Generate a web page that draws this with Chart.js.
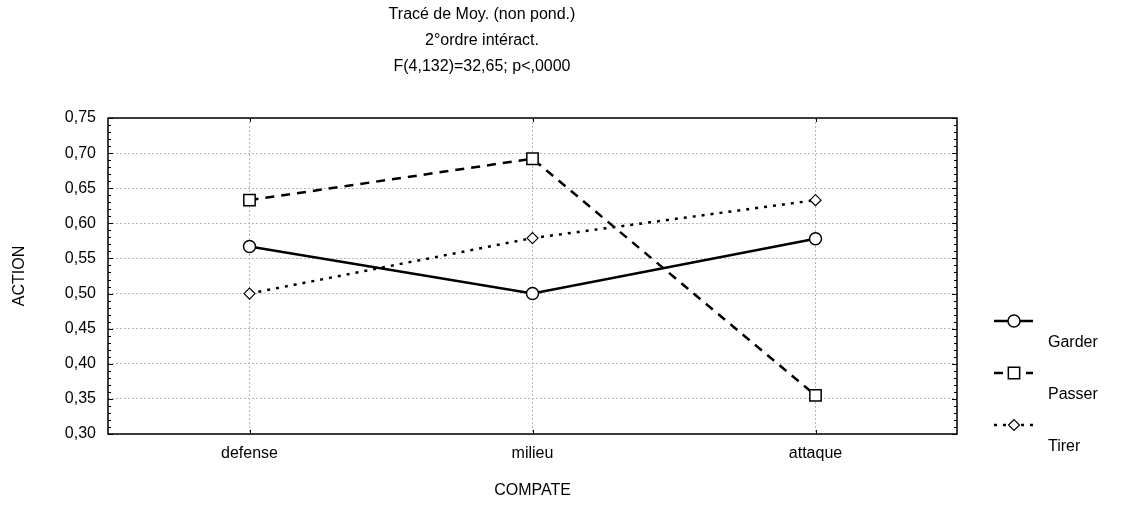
<!DOCTYPE html>
<html>
<head>
<meta charset="utf-8">
<script src="https://cdn.jsdelivr.net/npm/chart.js@4/dist/chart.umd.min.js"></script>
<style>
  body { margin: 0; background: #fff; }
  #wrap { width: 1131px; height: 506px; }
</style>
</head>
<body>
<div id="wrap"><canvas id="myChart"></canvas></div>
<script>
/* data */
const categories = ['defense', 'milieu', 'attaque'];
const garder = [0.567, 0.500, 0.578];
const passer = [0.633, 0.692, 0.355];
const tirer = [0.500, 0.579, 0.633];
const seriesNames = ['Garder', 'Passer', 'Tirer'];
const titleLines = ['Tracé de Moy. (non pond.)', '2°ordre intéract.', 'F(4,132)=32,65; p<,0000'];
const yMin = 0.30, yMax = 0.75, yStep = 0.05;

const FONT = 'Arial, "Liberation Sans", sans-serif';
Chart.defaults.font.family = FONT;
Chart.defaults.font.size = 16;
Chart.defaults.color = '#000';

/* frame, inward ticks, title and legend drawn on top */
const decor = {
  id: 'decor',
  afterDraw(chart) {
    const c = chart.ctx;
    const a = chart.chartArea;
    const y = chart.scales.y;
    const x = chart.scales.x;
    c.save();
    c.strokeStyle = '#000';
    c.lineWidth = 1.5;
    c.strokeRect(a.left, a.top, a.right - a.left, a.bottom - a.top);

    // minor / major ticks on left and right sides
    c.lineWidth = 1;
    c.beginPath();
    for (let i = 0; i <= Math.round((yMax - yMin) / 0.01); i++) {
      const v = yMin + i * 0.01;
      const py = Math.round(y.getPixelForValue(v)) + 0.5;
      const len = (i % 5 === 0) ? 5 : 3;
      c.moveTo(a.left, py); c.lineTo(a.left + len, py);
      c.moveTo(a.right, py); c.lineTo(a.right - len, py);
    }
    categories.forEach((cat, i) => {
      const px = Math.round(x.getPixelForValue(i)) + 0.5;
      c.moveTo(px, a.bottom); c.lineTo(px, a.bottom - 4);
      c.moveTo(px, a.top); c.lineTo(px, a.top + 4);
    });
    c.stroke();

    // title
    c.fillStyle = '#000';
    c.font = '16px ' + FONT;
    c.textAlign = 'center';
    c.textBaseline = 'middle';
    titleLines.forEach((t, i) => c.fillText(t, 482, 15 + i * 26));

    // legend
    c.textAlign = 'left';
    chart.data.datasets.forEach((ds, i) => {
      const ly = 321 + i * 52;
      c.save();
      c.strokeStyle = '#000';
      c.lineWidth = ds.borderWidth;
      c.setLineDash(ds.borderDash || []);
      c.beginPath();
      c.moveTo(994, ly); c.lineTo(1033, ly);
      c.stroke();
      c.restore();
      c.save();
      c.fillStyle = '#fff';
      c.strokeStyle = '#000';
      c.lineWidth = ds.pointBorderWidth;
      Chart.helpers.drawPoint(c, { pointStyle: ds.pointStyle, radius: ds.pointRadius, rotation: 0, borderWidth: ds.pointBorderWidth }, 1014, ly);
      c.restore();
      c.fillText(ds.label, 1048, ly + 22);
    });
    c.restore();
  }
};

const ctx = document.getElementById('myChart').getContext('2d');
const myChart = new Chart(ctx, {
  type: 'line',
  data: {
    labels: categories,
    datasets: [
      {
        label: seriesNames[0],
        data: garder,
        borderColor: '#000',
        borderWidth: 2.5,
        pointStyle: 'circle',
        pointRadius: 6,
        pointBackgroundColor: '#fff',
        pointBorderColor: '#000',
        pointBorderWidth: 1.5,
        tension: 0,
      },
      {
        label: seriesNames[1],
        data: passer,
        borderColor: '#000',
        borderWidth: 2.5,
        borderDash: [9, 7],
        pointStyle: 'rect',
        pointRadius: 8,
        pointBackgroundColor: '#fff',
        pointBorderColor: '#000',
        pointBorderWidth: 1.5,
        tension: 0,
      },
      {
        label: seriesNames[2],
        data: tirer,
        borderColor: '#000',
        borderWidth: 2.5,
        borderDash: [3, 6],
        pointStyle: 'rectRot',
        pointRadius: 5.5,
        pointBackgroundColor: '#fff',
        pointBorderColor: '#000',
        pointBorderWidth: 1.2,
        tension: 0,
      },
    ]
  },
  options: {
    responsive: true,
    maintainAspectRatio: false,
    animation: false,
    layout: { padding: { top: 118, right: 174, left: 0, bottom: 0 } },
    plugins: {
      legend: { display: false },
      title: { display: false },
      tooltip: { enabled: false },
    },
    scales: {
      x: {
        type: 'category',
        offset: true,
        grid: { offset: false, color: '#b8b8b8', lineWidth: 1, drawTicks: false },
        border: { display: false, dash: [2, 2] },
        ticks: { padding: 10, font: { size: 16 } },
        title: { display: true, text: 'COMPATE', font: { size: 16 }, padding: { top: 0, bottom: 6 } },
        afterFit: (s) => { s.height = 72; },
      },
      y: {
        min: yMin,
        max: yMax,
        grid: { color: '#b8b8b8', lineWidth: 1, drawTicks: false },
        border: { display: false, dash: [2, 2] },
        ticks: {
          stepSize: yStep,
          padding: 12,
          font: { size: 16 },
          callback: (v) => v.toFixed(2).replace('.', ','),
        },
        title: { display: true, text: 'ACTION', font: { size: 16 }, padding: { top: 10, bottom: 0 } },
        afterFit: (s) => { s.width = 108; },
      }
    }
  },
  plugins: [decor]
});
</script>
</body>
</html>
